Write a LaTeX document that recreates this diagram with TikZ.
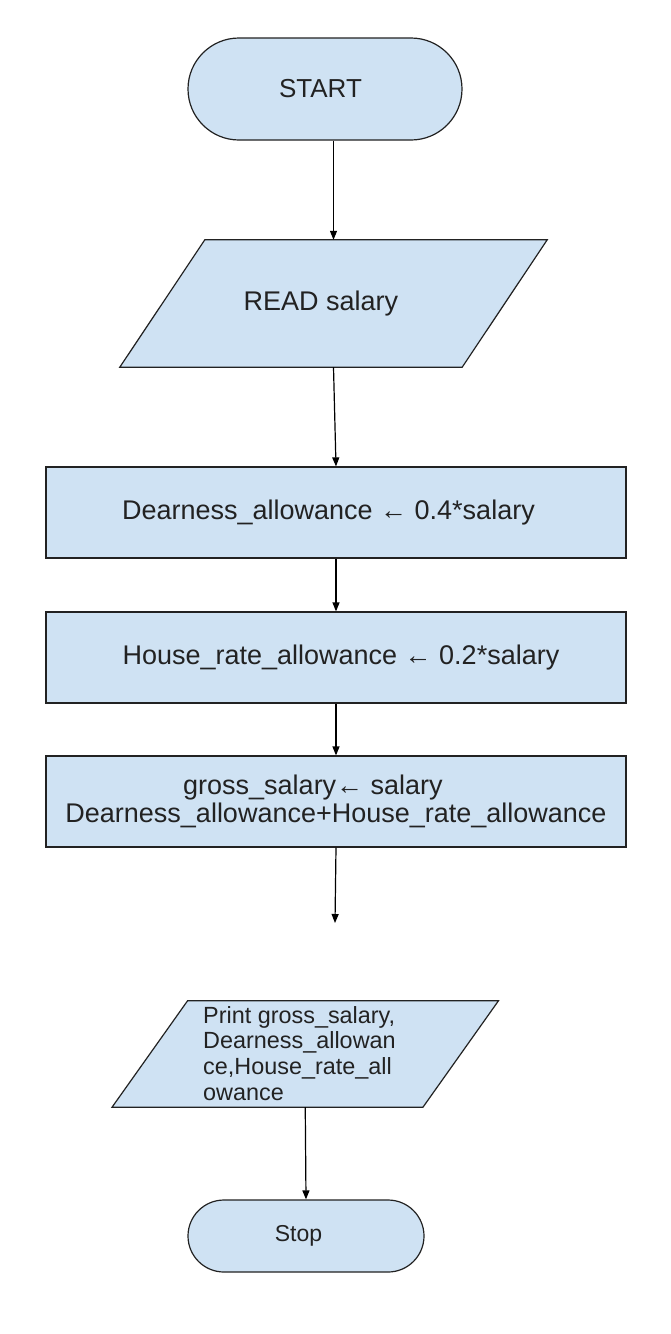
\documentclass[tikz,border=0pt]{standalone}
\usepackage{fontspec}
\setmainfont{Liberation Sans}
\usetikzlibrary{arrows.meta}
\definecolor{fillblue}{HTML}{CFE2F3}
\definecolor{edge}{HTML}{222222}
\definecolor{ink}{HTML}{222222}
\begin{document}
\begin{tikzpicture}[x=1pt,y=-1pt,
  shapeline/.style={draw=edge,line width=1.2pt,fill=fillblue},
  terminal/.style={shapeline,rectangle,inner sep=0pt,text=ink},
  procbox/.style={shapeline,rectangle,minimum width=580pt,minimum height=91pt,inner sep=0pt,align=center,text=ink,font=\fontsize{27}{28}\selectfont},
  anchorbox/.style={rectangle,inner sep=0pt,text=ink},
  flow/.style={draw=black,line width=1.2pt,-{Triangle[length=9pt,width=7pt]}}]
\fill[white] (0,0) rectangle (670,1334);
\useasboundingbox (0,0) rectangle (670,1334);

% START
\node[terminal,rounded corners=51pt,minimum width=274pt,minimum height=102pt,font=\fontsize{26}{28}\selectfont] (start) at (325,89) {START\hspace*{9pt}};

% READ salary (parallelogram)
\node[anchorbox,minimum width=257pt,minimum height=127pt] (read) at (333.5,303.5) {};
\draw[shapeline] (read.north west) -- ([xshift=85pt]read.north east) -- (read.south east) -- ([xshift=-85pt]read.south west) -- cycle;
\node[anchorbox,font=\fontsize{27}{28}\selectfont] (readtxt) at (read.center) {READ salary\hspace*{25pt}};

% process boxes
\node[procbox] (da) at (336,512.5) {Dearness\_allowance ← 0.4*salary\hspace*{15pt}};
\node[procbox] (hr) at (336,657.5) {\hspace*{10pt}House\_rate\_allowance ← 0.2*salary};
\node[procbox] (gs) at (336,801.5) {gross\_salary← salary\hspace*{46pt}\\Dearness\_allowance+House\_rate\_allowance};

\coordinate (dangle) at (335,923);

% Print (parallelogram)
\node[anchorbox,minimum width=235pt,minimum height=106pt] (print) at (305.25,1054) {};
\draw[shapeline] (print.north west) -- ([xshift=75.5pt]print.north east) -- (print.south east) -- ([xshift=-75.5pt]print.south west) -- cycle;
\node[anchorbox,anchor=north west,align=left,font=\fontsize{23.4}{25.7}\selectfont] (printtxt) at (203,1006) {Print gross\_salary,\\Dearness\_allowan\\ce,House\_rate\_all\\owance};

% Stop
\node[terminal,rounded corners=36pt,minimum width=236pt,minimum height=72pt,font=\fontsize{23}{26}\selectfont] (stop) at (306,1236) {Stop\hspace*{15pt}};

% connectors
\draw[flow] (start.south -| read.north) -- (read.north);
\draw[flow] (read.south) -- (da.north);
\draw[flow] (da.south) -- (hr.north);
\draw[flow] (hr.south) -- (gs.north);
\draw[flow] (gs.south) -- (dangle);
\draw[flow] (print.south) -- (stop.north);
\end{tikzpicture}
\end{document}
